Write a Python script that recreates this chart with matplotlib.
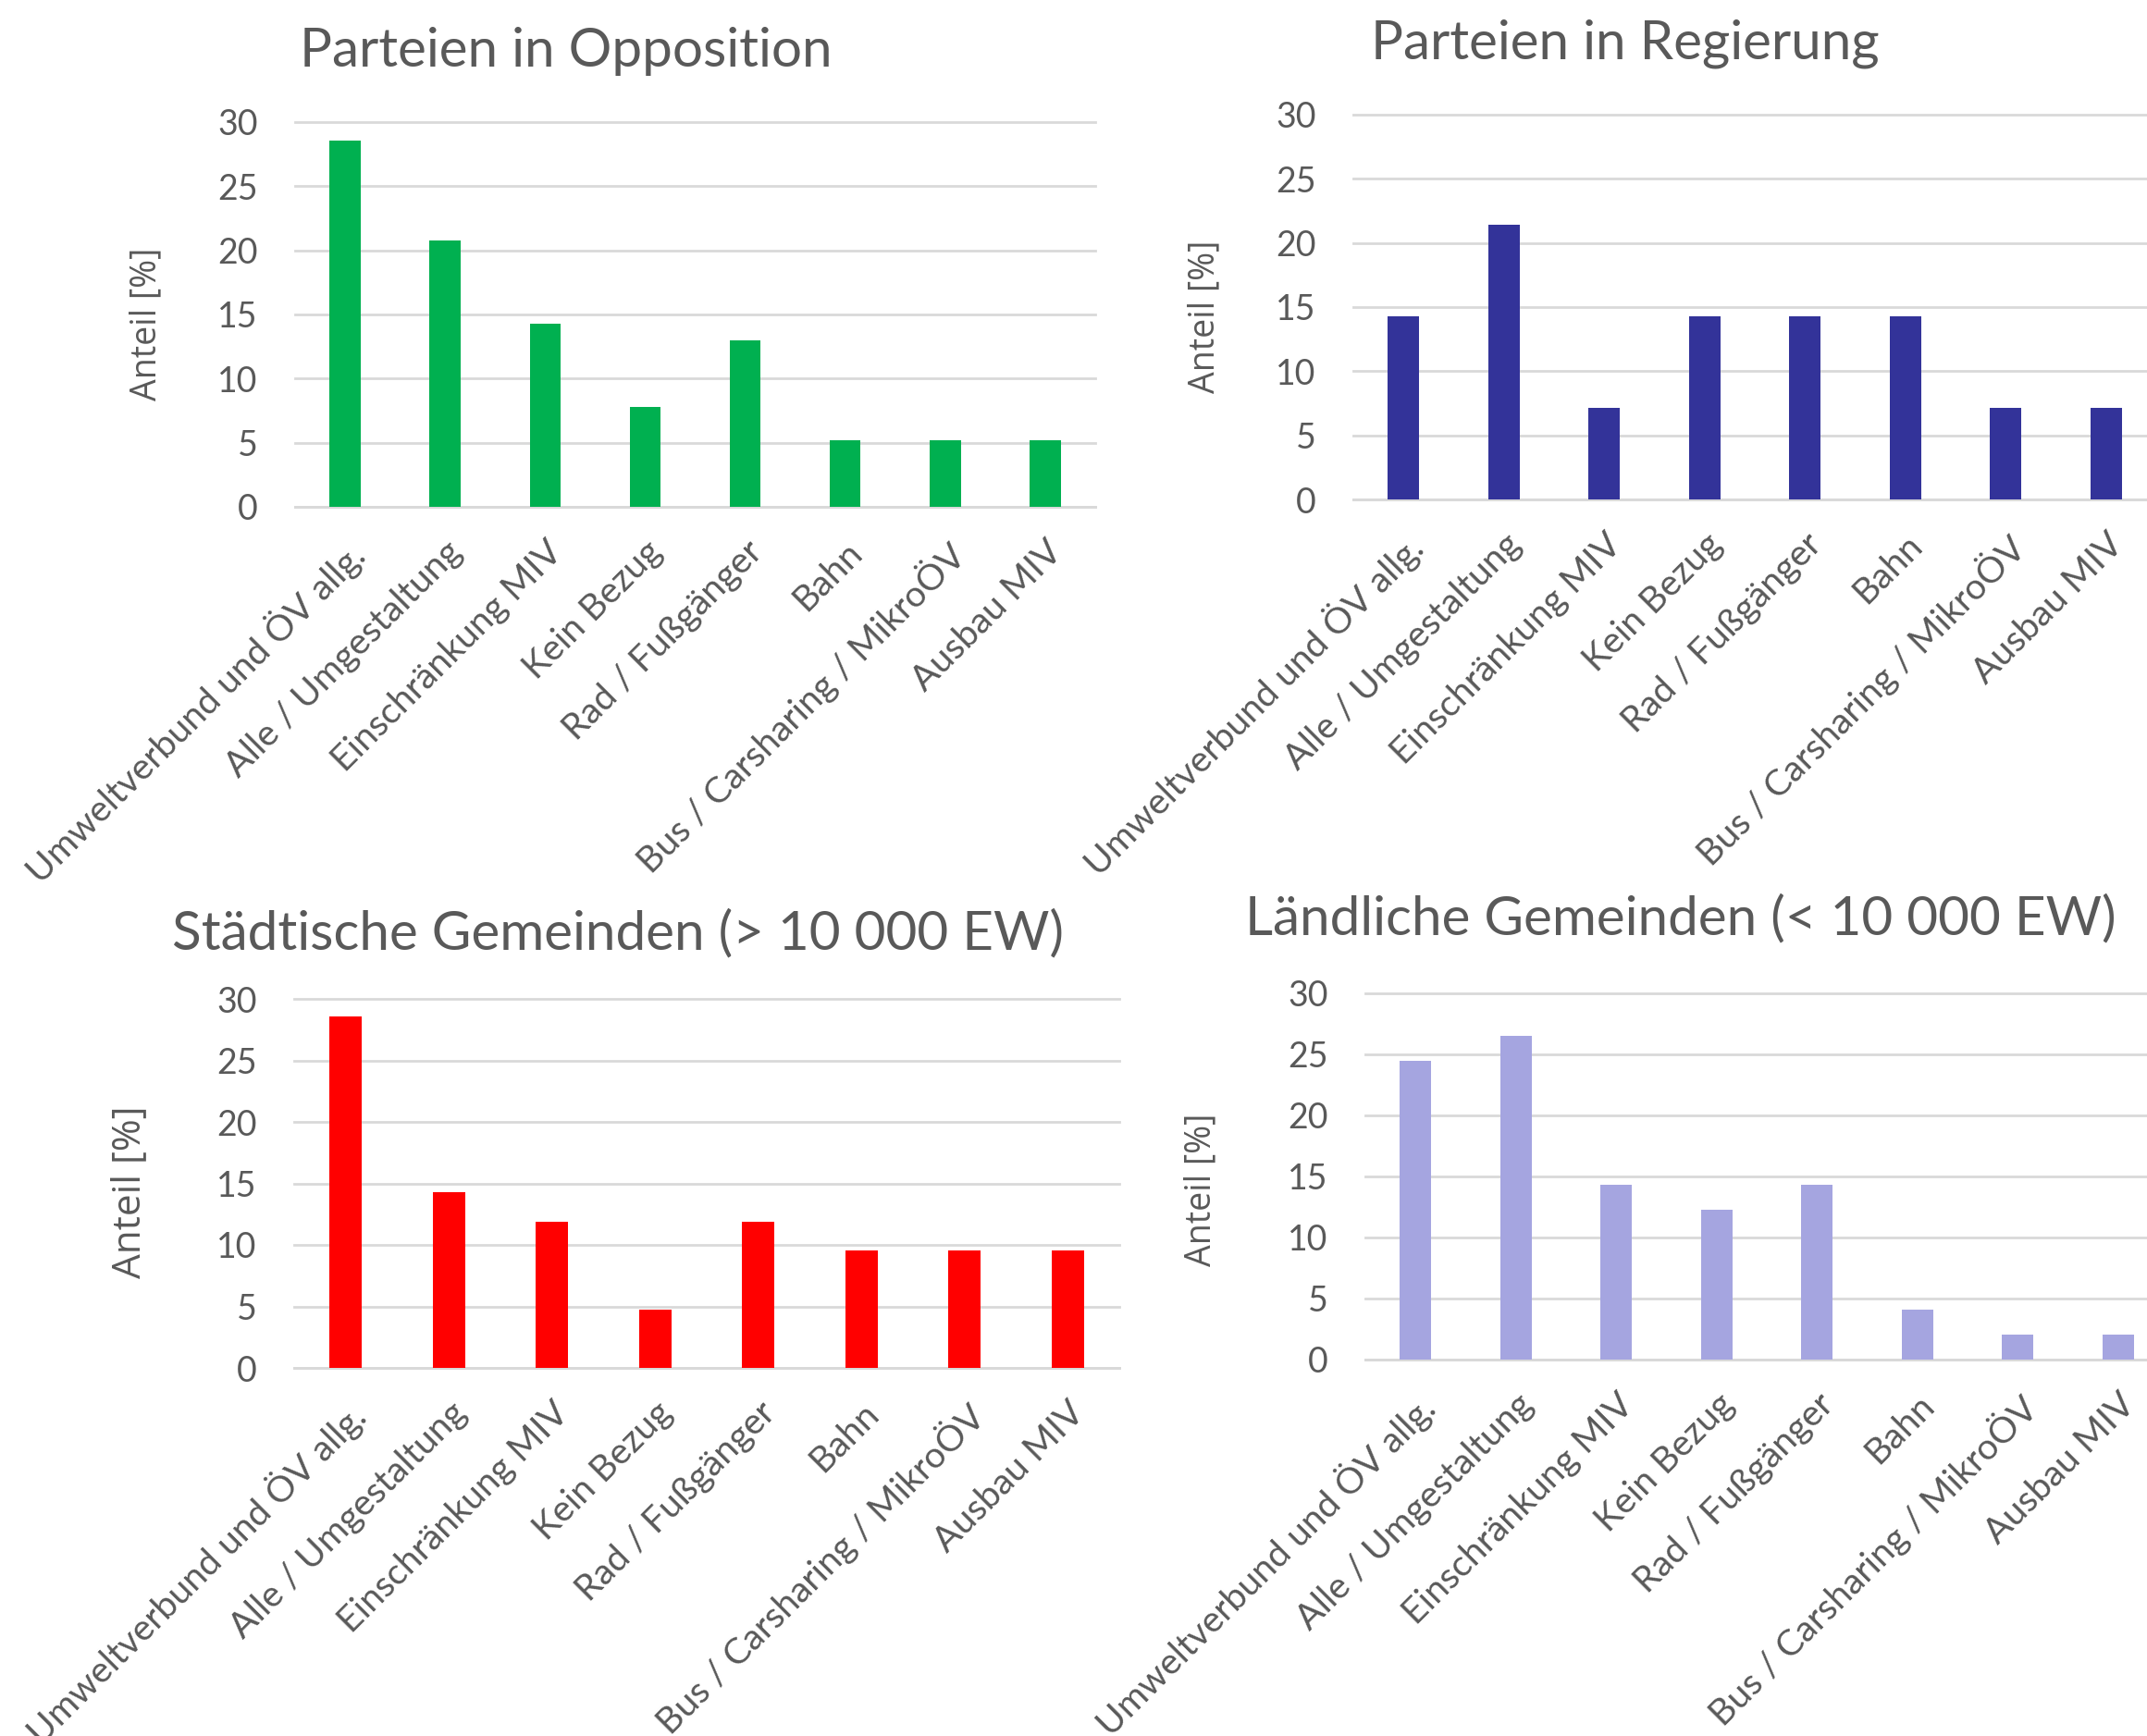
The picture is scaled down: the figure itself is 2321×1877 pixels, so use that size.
import numpy as np
import matplotlib
matplotlib.use('Agg')
import matplotlib.pyplot as plt

W, H = 2321, 1877
DPI = 100
plt.rcParams['font.family'] = 'Lato'

kategorien = ['Umweltverbund und ÖV allg.', 'Alle / Umgestaltung', 'Einschränkung MIV',
              'Kein Bezug', 'Rad / Fußgänger', 'Bahn', 'Bus / Carsharing / MikroÖV', 'Ausbau MIV']

opposition = [28.57, 20.78, 14.29, 7.79, 12.99, 5.19, 5.19, 5.19]
regierung  = [14.29, 21.43, 7.14, 14.29, 14.29, 14.29, 7.14, 7.14]
staedtisch = [28.57, 14.29, 11.90, 4.76, 11.90, 9.52, 9.52, 9.52]
laendlich  = [24.49, 26.53, 14.29, 12.24, 14.29, 4.08, 2.04, 2.04]

y_ticks = [0, 5, 10, 15, 20, 25, 30]

text_col = '#595959'
grid_col = '#D9D9D9'

fig = plt.figure(figsize=(W / DPI, H / DPI), dpi=DPI)


def panel(box, werte, farbe, titel, title_pos, title_size, ylab_pos, ylab_size):
    # box = (left, top, right, bottom) in pixels
    l, t, r, b = box
    ax = fig.add_axes([l / W, 1 - b / H, (r - l) / W, (b - t) / H])
    x = np.arange(len(kategorien))
    ax.bar(x, werte, width=0.31, color=farbe, zorder=3)
    ax.set_xlim(-0.5, len(kategorien) - 0.5)
    ax.set_ylim(0, 30)
    ax.set_yticks(y_ticks)
    ax.set_yticklabels([str(v) for v in y_ticks], fontsize=27, color=text_col)
    ax.set_xticks(x)
    ax.set_xticklabels(kategorien, rotation=45, ha='right', va='top',
                       rotation_mode='anchor', fontsize=28.3, color=text_col)
    ax.tick_params(axis='both', length=0)
    ax.tick_params(axis='y', pad=29)
    ax.tick_params(axis='x', pad=22)
    for s in ['top', 'right', 'left']:
        ax.spines[s].set_visible(False)
    ax.spines['bottom'].set_color(grid_col)
    ax.spines['bottom'].set_linewidth(2)
    ax.yaxis.grid(True, color=grid_col, linewidth=2, zorder=0)
    ax.set_axisbelow(True)
    for gl in ax.get_ygridlines():
        gl.set_clip_on(False)
    fig.text(title_pos[0] / W, 1 - title_pos[1] / H, titel, ha='center', va='baseline',
             fontsize=title_size, color=text_col)
    fig.text(ylab_pos[0] / W, 1 - ylab_pos[1] / H, 'Anteil [%]', rotation=90,
             ha='center', va='center', fontsize=ylab_size, color=text_col,
             family='Open Sans')
    return ax


panel((319, 132, 1184, 548), opposition, '#00B050', 'Parteien in Opposition',
      (612, 72), 42, (158, 350), 27)
panel((1463, 124, 2331, 540), regierung, '#333399', 'Parteien in Regierung',
      (1757, 64), 42, (1302, 342), 27)
panel((318, 1080, 1210, 1479), staedtisch, '#FF0000', 'Städtische Gemeinden (> 10 000 EW)',
      (668, 1026), 42, (140, 1289), 30.5)
panel((1476, 1074, 2344, 1470), laendlich, '#A5A5E0', 'Ländliche Gemeinden (< 10 000 EW)',
      (1817, 1010), 42, (1298, 1286), 27)

plt.savefig('out.png', dpi=DPI)
